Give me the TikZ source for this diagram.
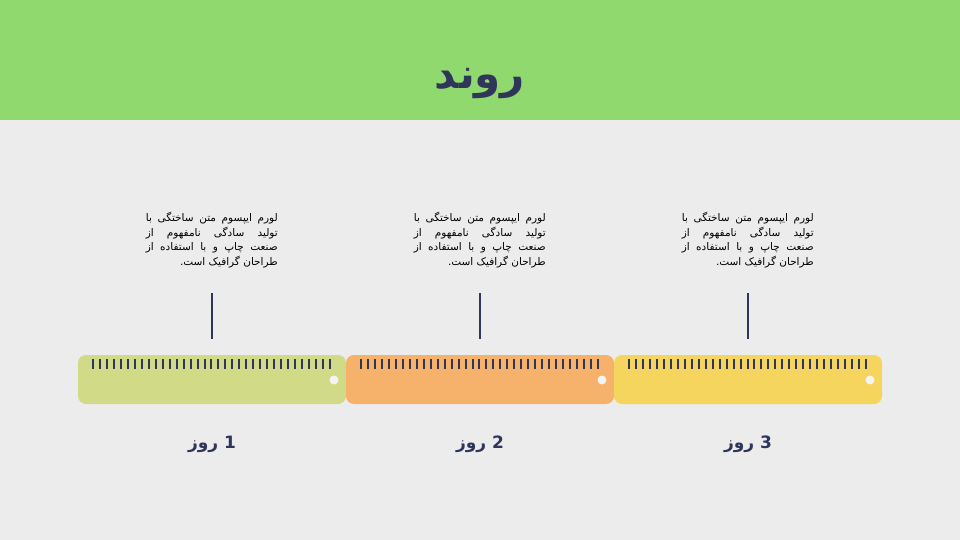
\documentclass[tikz,border=0pt]{standalone}
\usepackage{fontspec}
\usepackage{xcolor}
\usepackage{tikz}
\usetikzlibrary{positioning}
\TeXXeTstate=1
\newfontfamily\persianfont[Script=Arabic]{DejaVu Sans}
\definecolor{headgreen}{HTML}{8FD96E}
\definecolor{pagegray}{HTML}{ECECEC}
\definecolor{inkblue}{HTML}{2F3659}
\definecolor{olivebar}{HTML}{D1DA86}
\definecolor{orangebar}{HTML}{F6B26B}
\definecolor{yellowbar}{HTML}{F6D55F}
\newcommand\wgap{\hskip 3pt plus 1fill}
\newcommand\loremtext{%
  \vbox{\baselineskip=14.5pt
    \hbox to 132pt{\beginR لورم\wgap ایپسوم\wgap متن\wgap ساختگی\wgap با\endR}
    \hbox to 132pt{\beginR تولید\wgap سادگی\wgap نامفهوم\wgap از\endR}
    \hbox to 132pt{\beginR صنعت\wgap چاپ\wgap و\wgap با\wgap استفاده\wgap از\endR}
    \hbox to 132pt{\hfill\beginR طراحان گرافیک است.\endR}}}
\tikzset{% 
  ruler bar/.style={%
    rounded corners=8pt,
    minimum width=268pt,
    minimum height=49pt,
    inner sep=0pt
  }
}
\tikzset{% 
  tick mark/.style={%
    line width=2pt,
    color=inkblue
  }
}
\tikzset{% 
  hole/.style={%
    circle,
    fill=pagegray!60!white,
    minimum size=9pt,
    inner sep=0pt
  }
}
\tikzset{% 
  blurb/.style={%
    inner sep=0pt,
    font=\persianfont\fontsize{10.5}{14.5}\selectfont
  }
}
\tikzset{% 
  day label/.style={%
    text=inkblue,
    font=\persianfont\bfseries\fontsize{17}{20}\selectfont
  }
}
\tikzset{% 
  stem/.style={%
    line width=2pt,
    color=inkblue
  }
}

\begin{document}
\begin{tikzpicture}[x=1pt,y=-1pt]
  \fill [pagegray] (0,0) rectangle (960,540);
  \useasboundingbox (0,0) rectangle (960,540);
  \fill [headgreen] (0,0) rectangle (960,120);
  \node [text=inkblue, font=\persianfont\bfseries\fontsize{42}{50}\selectfont] (title) at (480,84) {\beginR روند\endR};
  \foreach \i/\x/\c in {1/212/olivebar, 2/480/orangebar, 3/748/yellowbar} {
    \node [ruler bar, fill=\c] (bar\i) at (\x,379.5) {};
    \foreach \k in {0,...,34}
      \draw [tick mark] (\x-119+6.97*\k,359) -- ++(0,10);
    \node [hole] (hole\i) at (\x+122,380) {};
    \node [blurb, anchor=north east] (blurb\i) at (\x+66,212) {\loremtext};
    \coordinate (stemtop\i) at (\x,293);
    \coordinate (stemfoot\i) at (\x,339);
    \draw [stem] (stemtop\i) -- (stemfoot\i);
    \node [day label] (day\i) at (\x,444) {\beginR \i{} روز\endR};
  }
\end{tikzpicture}
\end{document}
